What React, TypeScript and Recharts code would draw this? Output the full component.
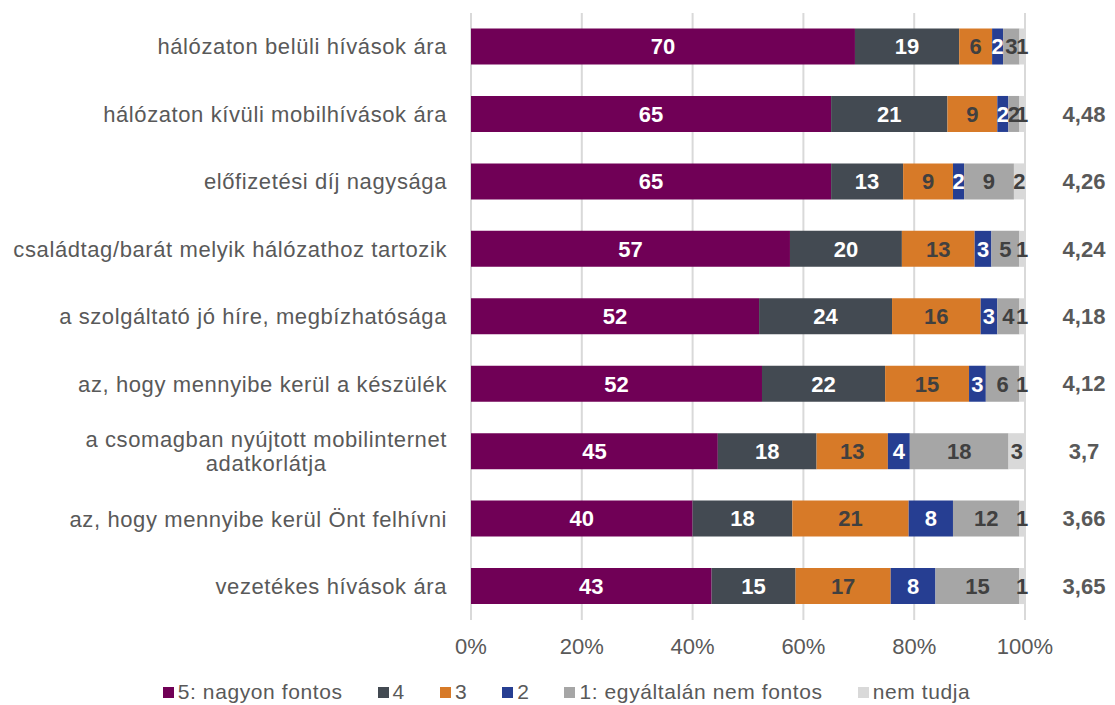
import React from 'react';
import { BarChart, Bar, XAxis, YAxis, CartesianGrid, Legend, LabelList } from 'recharts';

const categories = [
  'hálózaton belüli hívások ára',
  'hálózaton kívüli mobilhívások ára',
  'előfizetési díj nagysága',
  'családtag/barát melyik hálózathoz tartozik',
  'a szolgáltató jó híre, megbízhatósága',
  'az, hogy mennyibe kerül a készülék',
  'a csomagban nyújtott mobilinternet adatkorlátja',
  'az, hogy mennyibe kerül Önt felhívni',
  'vezetékes hívások ára',
];

const v5 = [70, 65, 65, 57, 52, 52, 45, 40, 43];
const v4 = [19, 21, 13, 20, 24, 22, 18, 18, 15];
const v3 = [6, 9, 9, 13, 16, 15, 13, 21, 17];
const v2 = [2, 2, 2, 3, 3, 3, 4, 8, 8];
const v1 = [3, 2, 9, 5, 4, 6, 18, 12, 15];
const vNt = [1, 1, 2, 1, 1, 1, 3, 1, 1];
const means = ['', '4,48', '4,26', '4,24', '4,18', '4,12', '3,7', '3,66', '3,65'];

const seriesNames = ['5: nagyon fontos', '4', '3', '2', '1: egyáltalán nem fontos', 'nem tudja'];
const xTicks = [0, 0.2, 0.4, 0.6, 0.8, 1];

const data = categories.map((name, i) => ({
  name,
  s5: v5[i],
  s4: v4[i],
  s3: v3[i],
  s2: v2[i],
  s1: v1[i],
  nt: vNt[i],
  mean: means[i],
}));

const FONT = '"Liberation Sans", Arial, sans-serif';
const TEXT = '#595959';
const SPACING = 0.6;

const series = [
  { key: 's5', color: '#700056', label: '#ffffff' },
  { key: 's4', color: '#434a52', label: '#ffffff' },
  { key: 's3', color: '#d77a28', label: '#404040' },
  { key: 's2', color: '#263e92', label: '#ffffff' },
  { key: 's1', color: '#a6a6a6', label: '#404040' },
  { key: 'nt', color: '#d9d9d9', label: '#404040' },
];

const MAX_LABEL_W = 450;
let ctx: CanvasRenderingContext2D | null = null;
function measure(t: string) {
  if (!ctx) {
    ctx = document.createElement('canvas').getContext('2d');
    if (ctx) ctx.font = `22px ${FONT}`;
  }
  const w = ctx ? ctx.measureText(t).width : t.length * 11;
  return w + t.length * SPACING;
}

function wrap(text: string) {
  if (measure(text) <= MAX_LABEL_W) return [text];
  const words = text.split(' ');
  const lines: string[] = [];
  let cur = '';
  words.forEach((w) => {
    const next = cur ? cur + ' ' + w : w;
    if (measure(next) > MAX_LABEL_W && cur) {
      lines.push(cur);
      cur = w;
    } else cur = next;
  });
  if (cur) lines.push(cur);
  return lines;
}

function CategoryTick(props: any) {
  const { x, y, payload } = props;
  const lines = wrap(payload.value);
  if (lines.length === 1) {
    return (
      <text
        x={x}
        y={y}
        dy="0.35em"
        textAnchor="end"
        fill={TEXT}
        fontSize={22}
        fontFamily={FONT}
        letterSpacing={SPACING}
      >
        {lines[0]}
      </text>
    );
  }
  const maxW = Math.max(...lines.map(measure));
  const cx = x - maxW / 2;
  const lh = 24;
  const top = y - ((lines.length - 1) * lh) / 2;
  return (
    <text textAnchor="middle" fill={TEXT} fontSize={22} fontFamily={FONT} letterSpacing={SPACING}>
      {lines.map((l, i) => (
        <tspan key={i} x={cx} y={top + i * lh} dy="0.35em">
          {l}
        </tspan>
      ))}
    </text>
  );
}

function MeanLabel(props: any) {
  const { x, y, width, height, value } = props;
  if (!value) return null;
  return (
    <text
      x={Number(x) + Number(width) + 59}
      y={Number(y) + Number(height) / 2}
      dy="0.35em"
      textAnchor="middle"
      fill={TEXT}
      fontSize={22}
      fontWeight="bold"
      fontFamily={FONT}
    >
      {value}
    </text>
  );
}

function LegendContent() {
  return (
    <div
      style={{
        height: 30,
        display: 'flex',
        justifyContent: 'center',
        alignItems: 'center',
        gap: 35,
        fontFamily: FONT,
        fontSize: 21,
        letterSpacing: SPACING,
        color: TEXT,
        paddingLeft: 100,
      }}
    >
      {series.map((s, i) => (
        <div key={s.key} style={{ display: 'flex', alignItems: 'center', gap: 4 }}>
          <span style={{ width: 11, height: 11, background: s.color, display: 'inline-block' }} />
          <span>{seriesNames[i]}</span>
        </div>
      ))}
    </div>
  );
}

export default function App() {
  return (
    <div style={{ fontFamily: FONT }}>
      <BarChart
        width={1100}
        height={699}
        data={data}
        layout="vertical"
        stackOffset="expand"
        barCategoryGap="23%"
        margin={{ top: 5, right: 83, bottom: 0, left: 0 }}
      >
        <CartesianGrid horizontal={false} stroke="#d9d9d9" strokeWidth={2} />
        <XAxis
          type="number"
          domain={[0, 1]}
          ticks={xTicks}
          tickFormatter={(v: number) => `${Math.round(v * 100)}%`}
          axisLine={false}
          tickLine={false}
          tickSize={0}
          tickMargin={18}
          height={57}
          tick={{ fill: TEXT, fontSize: 22, fontFamily: FONT }}
        />
        <YAxis
          type="category"
          dataKey="name"
          width={463}
          axisLine={false}
          tickLine={false}
          tickSize={0}
          tickMargin={24}
          interval={0}
          tick={<CategoryTick />}
        />
        <Legend verticalAlign="bottom" height={30} content={<LegendContent />} />
        {series.map((s, i) => (
          <Bar
            key={s.key}
            dataKey={s.key}
            name={seriesNames[i]}
            stackId="a"
            fill={s.color}
            isAnimationActive={false}
          >
            <LabelList
              dataKey={s.key}
              position="center"
              fill={s.label}
              fontSize={22}
              fontWeight="bold"
              fontFamily={FONT}
            />
            {s.key === 'nt' && <LabelList dataKey="mean" content={<MeanLabel />} />}
          </Bar>
        ))}
      </BarChart>
    </div>
  );
}
